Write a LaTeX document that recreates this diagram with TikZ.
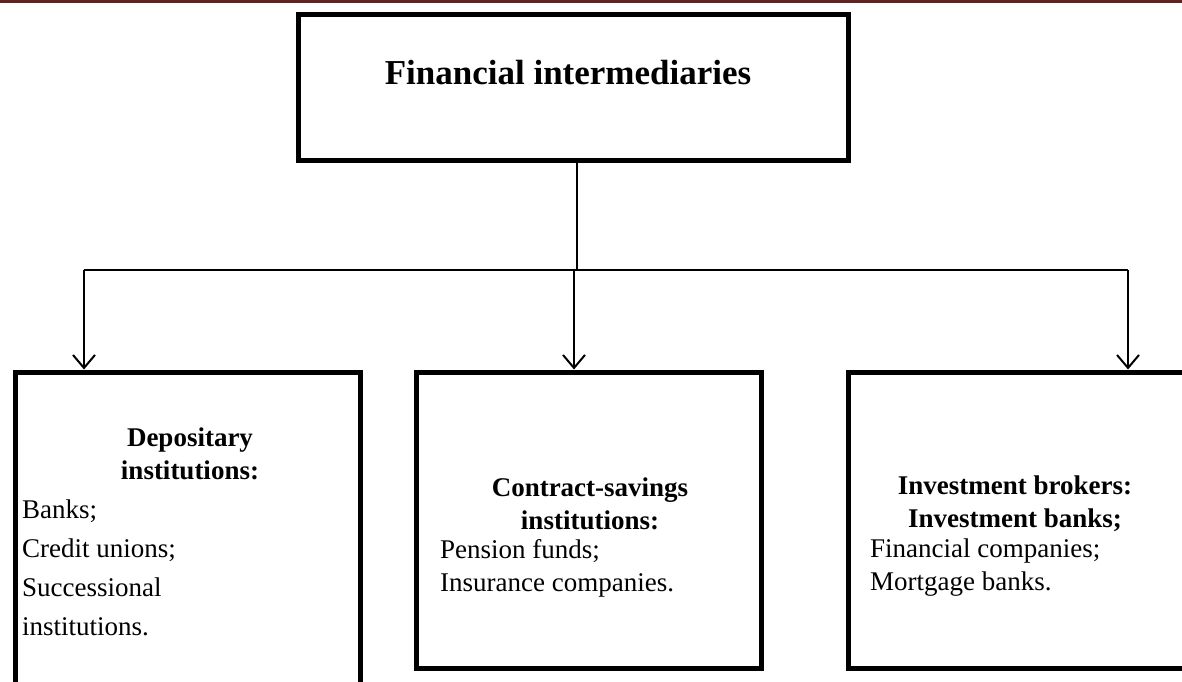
\documentclass[tikz,border=0pt]{standalone}
\usepackage{fontspec}
\setmainfont{Liberation Serif}
\usetikzlibrary{arrows.meta}
\definecolor{hdr}{RGB}{98,36,35}

\begin{document}
\begin{tikzpicture}[x=1pt,y=-1pt,
  box/.style={draw,line width=5pt,inner sep=0pt},
  ttl/.style={font=\bfseries\fontsize{27}{33}\selectfont,align=center,inner sep=0pt},
  lst/.style={font=\fontsize{27}{33}\selectfont,align=left,anchor=west,inner sep=0pt},
  arr/.style={line width=2pt,-{Straight Barb[length=13pt,width=22pt]}}]
\useasboundingbox (0,0) rectangle (1182,681);
\fill[hdr] (0,0) rectangle (1182,3);
% boxes
\node[box,minimum width=550pt,minimum height=146pt](fin)at(573,87){};
\node[box,minimum width=345pt,minimum height=340pt](dep)at(187.5,542){};
\node[box,minimum width=345pt,minimum height=296pt](con)at(588.5,520){};
\node[box,minimum width=347pt,minimum height=296pt](inv)at(1021.5,520){};
% texts
\node[font=\bfseries\fontsize{35}{42}\selectfont,inner sep=0pt](finT)at(568,73){Financial intermediaries};
\node[ttl](depT)at(190,454){Depositary\\institutions:};
\node[lst,font=\fontsize{27}{39}\selectfont](depL)at(22,568){Banks;\\Credit unions;\\Successional\\institutions.};
\node[ttl](conT)at(590,504){Contract-savings\\institutions:};
\node[lst](conL)at(440,568){Pension funds;\\Insurance companies.};
\node[ttl](invT)at(1015,504){Investment brokers:\\Investment banks;};
\node[lst](invL)at(870,568){Financial companies;\\Mortgage banks.};
% connectors
\coordinate(jn)at(577,270);
\coordinate(jl)at(84,270);
\coordinate(jm)at(574,270);
\coordinate(jr)at(1128,270);
\draw[line width=2pt](fin.south)++(4,0)--(jn);
\draw[line width=2pt](jl)--(jr);
\draw[arr](jl)--(jl|-dep.north);
\draw[arr](jm)--(jm|-con.north);
\draw[arr](jr)--(jr|-inv.north);
\end{tikzpicture}
\end{document}
